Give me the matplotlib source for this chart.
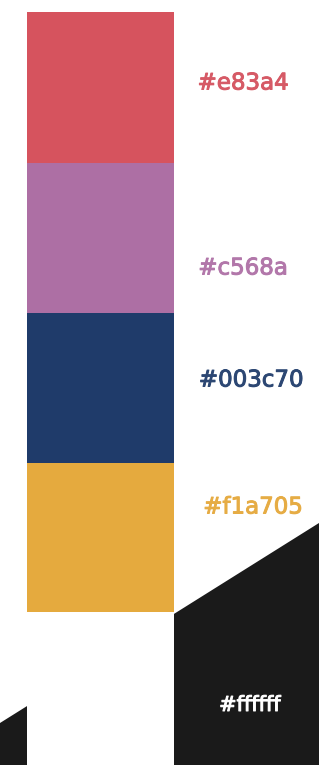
import matplotlib
matplotlib.use("Agg")
import matplotlib.pyplot as plt
import matplotlib.patheffects as pe
from matplotlib.patches import Polygon

# palette swatches, top to bottom
swatch_colors = ["#d6535e", "#ad6fa4", "#1f3b6a", "#e5aa3e", "#ffffff"]
labels = ["#e83a4", "#c568a", "#003c70", "#f1a705", "#ffffff"]
label_colors = ["#d65a66", "#b277aa", "#2c4773", "#e6ac44", "#ffffff"]

W, H = 319, 765
fig = plt.figure(figsize=(W / 100, H / 100), dpi=100)
ax = fig.add_axes([0, 0, 1, 1])
ax.set_xlim(0, W)
ax.set_ylim(H, 0)
ax.axis("off")

# black diagonal band behind the last swatch
ax.add_patch(Polygon([(0, 723), (W, 523), (W, H), (0, H)], closed=True,
                     facecolor="#1a1a1a", edgecolor="none", zorder=1))

top = 12
hs = [151, 150, 150, 149, 153]
y = top
for c, h in zip(swatch_colors, hs):
    ax.bar(100.5, h, width=147, bottom=y, color=c, edgecolor="none", zorder=2)
    y += h

label_xy = [(243, 83), (243, 268), (251, 380), (253, 507), (250, 705)]
sizes = [16.5, 16.5, 16.5, 16.5, 15]
for (lx, ly), t, c, fs in zip(label_xy, labels, label_colors, sizes):
    txt = ax.text(lx, ly, t, color=c, fontsize=fs, family="DejaVu Sans",
                  ha="center", va="center", zorder=3)
    txt.set_path_effects([pe.withStroke(linewidth=0.7, foreground=c)])

fig.savefig("out.png", dpi=100)
plt.close(fig)
